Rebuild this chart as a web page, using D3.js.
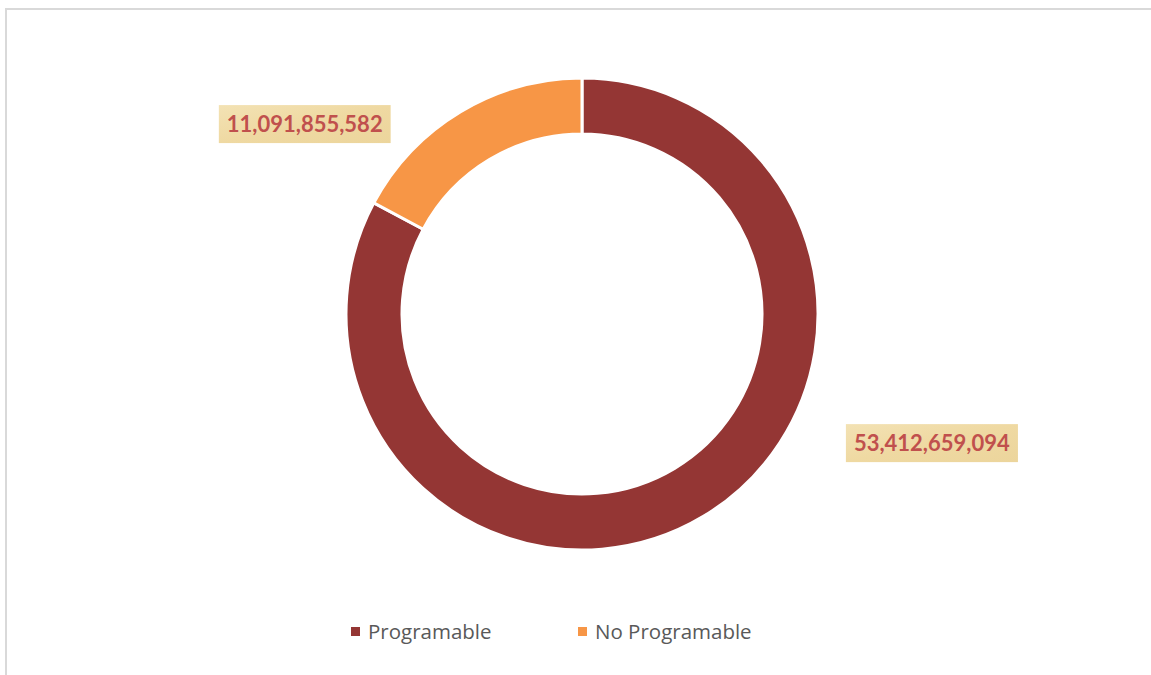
<!DOCTYPE html>
<html lang="es">
<head>
  <meta charset="UTF-8">
  <title>Programable vs No Programable</title>
  <script src="https://d3js.org/d3.v7.min.js"></script>
  <style>
    html, body { margin: 0; padding: 0; background: #fff; }
    svg { display: block; }
    .legend text { font-family: "Open Sans", "Noto Sans", sans-serif; font-size: 20.5px; fill: #595959; }
    .value-label { font-family: "Lato", "Open Sans", sans-serif; font-weight: bold; font-size: 22px; fill: #c0504d; }
  </style>
</head>
<body>
  <svg id="chart" width="1151" height="675"></svg>
  <script>
    // datos
    const categories = ["Programable", "No Programable"];
    const values = [53412659094, 11091855582];
    const colors = ["#943634", "#f79646"];

    const W = 1151, H = 675;
    const cx = 582, cy = 314;
    const outerR = 236, innerR = 180;

    const svg = d3.select("#chart");

    // marco del área del gráfico
    svg.append("path")
      .attr("d", `M6,${H} L6,9 L${W},9`)
      .attr("fill", "none")
      .attr("stroke", "#d9d9d9")
      .attr("stroke-width", 2);

    // fondo tipo pergamino para las etiquetas
    const defs = svg.append("defs");
    const grad = defs.append("linearGradient").attr("id", "parch")
      .attr("x1", "0").attr("y1", "0").attr("x2", "1").attr("y2", "1");
    grad.append("stop").attr("offset", "0%").attr("stop-color", "#f3e2b4");
    grad.append("stop").attr("offset", "50%").attr("stop-color", "#efd9a2");
    grad.append("stop").attr("offset", "100%").attr("stop-color", "#ecd59c");

    const pie = d3.pie().sort(null).value(d => d.value);
    const arcs = pie(categories.map((c, i) => ({ name: c, value: values[i], color: colors[i] })));
    const arc = d3.arc().innerRadius(innerR).outerRadius(outerR);

    const g = svg.append("g").attr("transform", `translate(${cx},${cy})`);
    g.selectAll("path.slice")
      .data(arcs)
      .enter()
      .append("path")
      .attr("class", "slice")
      .attr("d", arc)
      .attr("fill", d => d.data.color)
      .attr("stroke", "#fff")
      .attr("stroke-width", 3);

    // etiquetas de valor (posición relativa al arco)
    const fmt = d3.format(",");
    const labelOffsets = [
      { r: 1.58, dAngle: -0.677 },  // Programable
      { r: 1.424, dAngle: -0.43 }   // No Programable
    ];
    arcs.forEach((d, i) => {
      const a = (d.startAngle + d.endAngle) / 2 + labelOffsets[i].dAngle;
      const rr = outerR * labelOffsets[i].r;
      const x = Math.sin(a) * rr, y = -Math.cos(a) * rr;
      const lg = g.append("g").attr("transform", `translate(${x},${y})`);
      const t = lg.append("text")
        .attr("class", "value-label")
        .attr("text-anchor", "middle")
        .attr("dy", "0.35em")
        .text(fmt(d.data.value));
      const bb = t.node().getBBox();
      lg.insert("rect", "text")
        .attr("x", bb.x - 8).attr("y", -19)
        .attr("width", bb.width + 16).attr("height", 38)
        .attr("fill", "url(#parch)");
    });

    // leyenda
    const legendX = [351, 578];
    const legend = svg.append("g").attr("class", "legend");
    categories.forEach((c, i) => {
      legend.append("rect")
        .attr("x", legendX[i]).attr("y", 627)
        .attr("width", 9).attr("height", 9)
        .attr("fill", colors[i]);
      legend.append("text")
        .attr("x", legendX[i] + 17).attr("y", 639)
        .text(c);
    });
  </script>
</body>
</html>
